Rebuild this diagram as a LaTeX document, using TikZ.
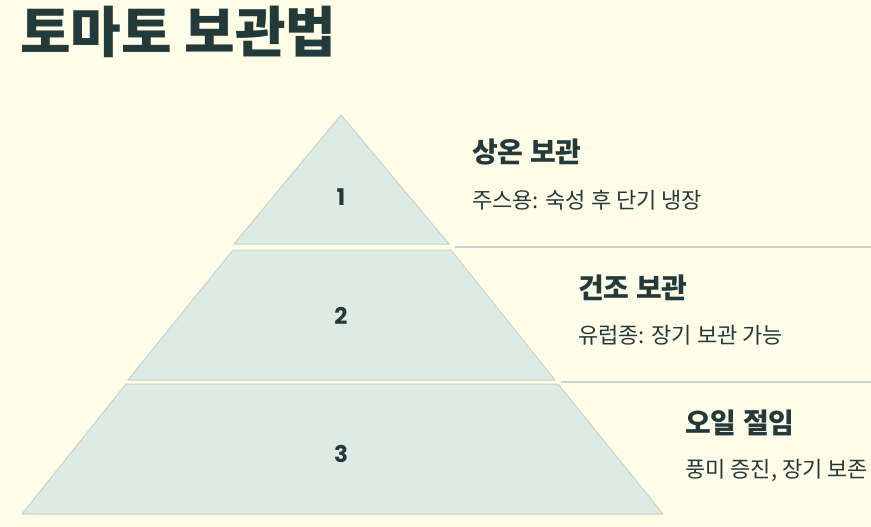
\documentclass[tikz,border=0pt]{standalone}
\usepackage{fontspec}
\usepackage{tikz}
\usetikzlibrary{positioning}
\newfontfamily\krfont{Noto Sans CJK KR}
\newfontfamily\numfont{Poppins}
\definecolor{paper}{HTML}{FFFDE8}
\definecolor{tierfill}{HTML}{DCECE5}
\definecolor{tierline}{HTML}{C3D5CE}
\definecolor{ink}{HTML}{233A3A}

\begin{document}
\begin{tikzpicture}[x=1pt, y=-1pt, node distance=14pt,
	tier/.style={fill=tierfill, draw=tierline, line width=1pt, line join=round},
	rule/.style={draw=tierline, line width=1.2pt},
	num/.style={font=\numfont\bfseries\fontsize{23}{23}\selectfont, text=ink, inner sep=0pt},
	head/.style={font=\krfont\bfseries\fontsize{28}{28}\selectfont, text=ink, inner sep=0pt, anchor=west},
	note/.style={font=\krfont\fontsize{22}{22}\selectfont, text=ink, inner sep=0pt, anchor=west}]
	\fill[paper] (0,0) rectangle (871,527);
	\useasboundingbox (0,0) rectangle (871,527);
	\node[font=\krfont\bfseries\fontsize{55}{55}\selectfont, text=ink, inner sep=0pt, anchor=west] (title) at (20,32) {토마토 보관법};
	% pyramid tiers
	\path[tier] (341,115) -- (449,244) -- (234,244) -- cycle;
	\path[tier] (233,250) -- (451,250) -- (555,380) -- (128,380) -- cycle;
	\path[tier] (126,384) -- (558,384) -- (663,514) -- (22,514) -- cycle;
	\node[num] (n1) at (341,197) {1};
	\node[num] (n2) at (341,316) {2};
	\node[num] (n3) at (341,454) {3};
	% separators
	\coordinate (r1a) at (455,247);
	\coordinate (r1b) at (871,247);
	\coordinate (r2a) at (561,382);
	\coordinate (r2b) at (871,382);
	\draw[rule] (r1a) -- (r1b);
	\draw[rule] (r2a) -- (r2b);
	% labels
	\node[head] (h1) at (472,152) {상온 보관};
	\node[note] (d1) at (472,200) {주스용: 숙성 후 단기 냉장};
	\node[head] (h2) at (578,288) {건조 보관};
	\node[note] (d2) at (578,335) {유럽종: 장기 보관 가능};
	\node[head] (h3) at (685,423) {오일 절임};
	\node[note] (d3) at (685,470) {풍미 증진, 장기 보존};
\end{tikzpicture}
\end{document}
